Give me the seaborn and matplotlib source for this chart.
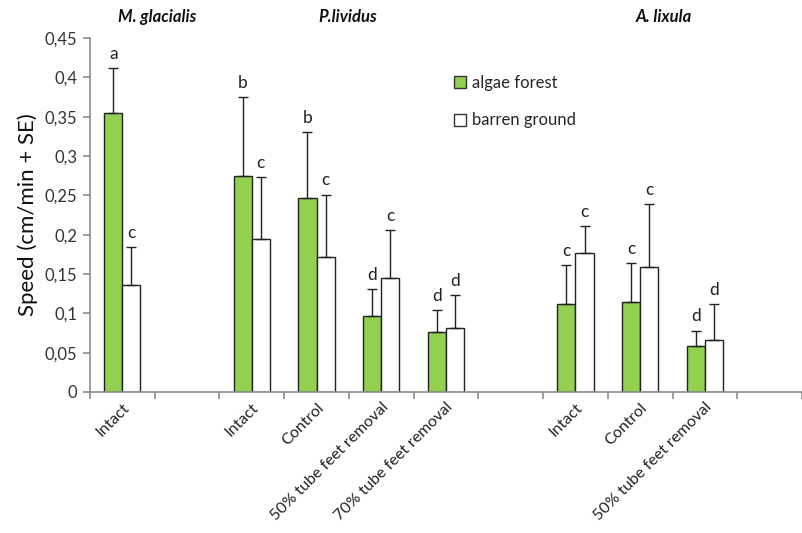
import matplotlib
matplotlib.use("Agg")
import matplotlib.pyplot as plt
import seaborn as sns
import pandas as pd
import numpy as np

# ---- data ----
slots = ["M_Intact", "gap1", "P_Intact", "P_Control", "P_50", "P_70", "gap2",
         "A_Intact", "A_Control", "A_50", "gap3"]
slot_labels = ["Intact", "", "Intact", "Control", "50% tube feet removal",
               "70% tube feet removal", "", "Intact", "Control",
               "50% tube feet removal", ""]
cats = ["M_Intact", "P_Intact", "P_Control", "P_50", "P_70",
        "A_Intact", "A_Control", "A_50"]
algae = [0.355, 0.275, 0.246, 0.096, 0.076, 0.112, 0.114, 0.058]
algae_se = [0.057, 0.100, 0.084, 0.035, 0.028, 0.049, 0.050, 0.020]
barren = [0.136, 0.195, 0.172, 0.145, 0.081, 0.177, 0.159, 0.066]
barren_se = [0.048, 0.078, 0.079, 0.061, 0.042, 0.034, 0.080, 0.046]
algae_letters = ["a", "b", "b", "d", "d", "c", "c", "d"]
barren_letters = ["c", "c", "c", "c", "d", "c", "c", "d"]
species = ["M. glacialis", "P.lividus", "A. lixula"]
species_x = [0.54, 3.48, 8.37]
yticks = [0, 0.05, 0.1, 0.15, 0.2, 0.25, 0.3, 0.35, 0.4, 0.45]
ytick_labels = ["0", "0,05", "0,1", "0,15", "0,2", "0,25", "0,3", "0,35", "0,4", "0,45"]
hue_names = ["algae forest", "barren ground"]

df = pd.DataFrame({
    "cat": cats * 2,
    "speed": algae + barren,
    "habitat": [hue_names[0]] * len(cats) + [hue_names[1]] * len(cats),
})

sns.set_style("white")
plt.rcParams["font.family"] = ["Lato", "DejaVu Sans"]

fig = plt.figure(figsize=(8.02, 5.33), dpi=100)
ax = fig.add_axes([90 / 802, 1 - 392 / 533, 1 - 90 / 802, (392 - 38) / 533])

sns.barplot(data=df, x="cat", y="speed", hue="habitat", order=slots,
            hue_order=hue_names, palette=["#92D050", "#FFFFFF"], saturation=1,
            width=0.56, edgecolor="#222222", linewidth=1.0, errorbar=None,
            ax=ax, legend=True)

grey = "#8C8C8C"
bw = 0.28
pos = np.array([slots.index(c) for c in cats], dtype=float)
for off, vals, ses, lets in [(-bw / 2, algae, algae_se, algae_letters),
                             (bw / 2, barren, barren_se, barren_letters)]:
    xs = pos + off
    v = np.array(vals)
    e = np.array(ses)
    ax.errorbar(xs, v, yerr=[np.zeros_like(e), e], fmt="none", ecolor="#222222",
                elinewidth=1.0, capsize=3.5, capthick=1.0, zorder=3)
    for x, top, l in zip(xs, v + e, lets):
        ax.text(x, top + 0.008, l, ha="center", va="bottom", fontsize=12.5,
                color="#222222")

ax.set_xlim(-0.5, 10.35)
ax.set_ylim(0, 0.45)
ax.set_yticks(yticks)
ax.set_yticklabels(ytick_labels, fontsize=12, color="#333333")
ax.set_xticks(range(len(slots)))
ax.set_xticklabels(slot_labels, rotation=45, ha="right", rotation_mode="anchor",
                   fontsize=11.5, color="#222222")
ax.tick_params(axis="x", which="major", length=0, pad=6)
ax.set_xticks(np.arange(-0.5, 10.6, 1.0), minor=True)
ax.tick_params(axis="x", which="minor", length=5, color=grey, width=1.2,
               direction="out", bottom=True)
ax.tick_params(axis="y", length=5, color=grey, width=1.2, direction="out",
               left=True, pad=4)
for s in ["top", "right"]:
    ax.spines[s].set_visible(False)
for s in ["left", "bottom"]:
    ax.spines[s].set_color(grey)
    ax.spines[s].set_linewidth(1.2)

ax.set_xlabel("")
ax.set_ylabel("Speed (cm/min + SE)", fontsize=16, color="#111111", labelpad=5)

for name, x in zip(species, species_x):
    ax.text(x, 1.0 + 21 / 354, name, transform=ax.get_xaxis_transform(),
            ha="center", va="center", fontsize=12, fontweight="bold",
            fontstyle="italic", color="#111111")

leg = ax.legend(loc="upper left", bbox_to_anchor=(357 / 712, 0.915), frameon=False,
                fontsize=12, handlelength=0.75, handleheight=0.75,
                handletextpad=0.35, labelspacing=1.3, borderaxespad=0)
for h in leg.legend_handles:
    h.set_edgecolor("#333333")
    h.set_linewidth(1.0)

fig.savefig("out.png", dpi=100)
